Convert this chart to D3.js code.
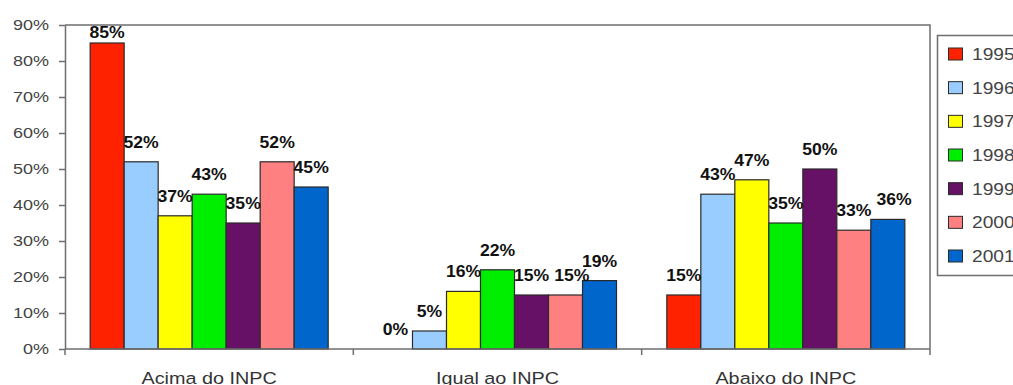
<!DOCTYPE html>
<html>
<head>
<meta charset="utf-8">
<script src="https://cdn.jsdelivr.net/npm/d3@7"></script>
<style>
  body { margin: 0; background: #fff; }
  svg { display: block; font-family: "Liberation Sans", Arial, sans-serif; }
</style>
</head>
<body>
<div id="chart"></div>
<script>
const width = 1013,
    height = 385,
    margin = ({ top: 25, right: 83, bottom: 36, left: 65 });

// chart data
const categories = ["Acima do INPC", "Igual ao INPC", "Abaixo do INPC"];
const years = ["1995", "1996", "1997", "1998", "1999", "2000", "2001"];
const colors = ["#ff2200", "#99ccff", "#ffff00", "#00ee00", "#661166", "#ff8080", "#0066cc"];
const acima = [85, 52, 37, 43, 35, 52, 45];
const igual = [0, 5, 16, 22, 15, 15, 19];
const abaixo = [15, 43, 47, 35, 50, 33, 36];
const yTicks = [0, 10, 20, 30, 40, 50, 60, 70, 80, 90];

const series = [acima, igual, abaixo];
const sx = 1.2; // the original picture is stretched sideways

const svg = d3.select("#chart")
    .append("svg")
    .attr("width", width)
    .attr("height", height);

let x0 = d3.scaleBand()
    .domain(categories)
    .range([margin.left, width - margin.right]);

let x1 = d3.scaleBand()
    .domain(years)
    .range([0, x0.bandwidth()])
    .paddingOuter(0.74);

let y = d3.scaleLinear()
    .domain([0, 90])
    .range([height - margin.bottom, margin.top]);

let legendY = d3.scalePoint()
    .domain(years)
    .range([54, 256]);

// text helper, squeezed text drawn then stretched in x
function label(g, px, py, txt, anchor, s) {
    return g.append("text")
        .attr("transform", `translate(${px},${py}) scale(${s || sx},1)`)
        .attr("text-anchor", anchor)
        .text(txt);
}

// plot frame (top + right)
svg.append("path")
    .attr("d", `M${margin.left},${y(90)}H${width - margin.right}V${y(0)}`)
    .attr("fill", "none")
    .attr("stroke", "#6e6e6e")
    .attr("stroke-width", 1.5);

// bars
const groups = svg.append("g")
    .selectAll("g")
    .data(categories)
    .join("g")
    .attr("transform", d => `translate(${x0(d)},0)`);

groups.selectAll("rect")
    .data((c, i) => series[i].map((v, j) => ({ year: years[j], v: v, c: colors[j] })))
    .join("rect")
    .attr("x", d => x1(d.year))
    .attr("y", d => y(d.v))
    .attr("width", x1.bandwidth())
    .attr("height", d => y(0) - y(d.v))
    .attr("fill", d => d.c)
    .attr("stroke", "#2a2a2a")
    .attr("stroke-width", 1.2);

// value labels, pushed right when they collide with the previous one
groups.each(function(c, i) {
    const g = d3.select(this);
    let prev = null;
    series[i].forEach((v, j) => {
        let ly = Math.max(y(v) - 14, y(90) + 13);
        let cx = x1(years[j]) + x1.bandwidth() / 2;
        const t = label(g, cx, ly, v + "%", "middle", 1.1)
            .attr("font-size", 16)
            .attr("font-weight", "bold")
            .attr("fill", "#111");
        const w = t.node().getBBox().width * 1.1;
        if (prev && Math.abs(prev.y - ly) < 12 && cx - w / 2 < prev.right) {
            cx = prev.right + 5 + w / 2;
            t.attr("transform", `translate(${cx},${ly}) scale(1.1,1)`);
        }
        prev = { y: ly, right: cx + w / 2 };
    });
});

// y axis
const yAxis = svg.append("g")
    .attr("transform", `translate(${margin.left},0)`)
    .call(d3.axisLeft(y).tickValues(yTicks).tickSize(6).tickSizeOuter(0).tickFormat(""));
yAxis.selectAll("line, path").attr("stroke", "#6e6e6e").attr("stroke-width", 1.5);
yTicks.forEach(t => {
    label(svg, 49, y(t) + 5, t + "%", "end")
        .attr("font-size", 15)
        .attr("fill", "#444");
});

// x axis
const xAxis = svg.append("g")
    .attr("transform", `translate(0,${y(0)})`);
xAxis.append("line")
    .attr("x1", margin.left).attr("x2", width - margin.right)
    .attr("stroke", "#6e6e6e").attr("stroke-width", 1.5);
xAxis.selectAll(".tk")
    .data(categories.concat(["end"]))
    .join("line")
    .attr("class", "tk")
    .attr("x1", (d, i) => i < categories.length ? x0(d) : width - margin.right)
    .attr("x2", (d, i) => i < categories.length ? x0(d) : width - margin.right)
    .attr("y2", 6)
    .attr("stroke", "#6e6e6e").attr("stroke-width", 1.5);
categories.forEach(c => {
    label(svg, x0(c) + x0.bandwidth() / 2, 384, c, "middle")
        .attr("font-size", 16.5)
        .attr("fill", "#333");
});

// legend
svg.append("rect")
    .attr("x", 937.5).attr("y", 35.5)
    .attr("width", 100).attr("height", 240)
    .attr("fill", "#fff")
    .attr("stroke", "#6e6e6e")
    .attr("stroke-width", 1.5);

years.forEach((yr, j) => {
    svg.append("rect")
        .attr("x", 948.5).attr("y", legendY(yr) - 6)
        .attr("width", 14).attr("height", 12)
        .attr("fill", colors[j])
        .attr("stroke", "#2a2a2a");
    label(svg, 972, legendY(yr) + 6, yr, "start")
        .attr("font-size", 16)
        .attr("fill", "#444");
});
</script>
</body>
</html>
